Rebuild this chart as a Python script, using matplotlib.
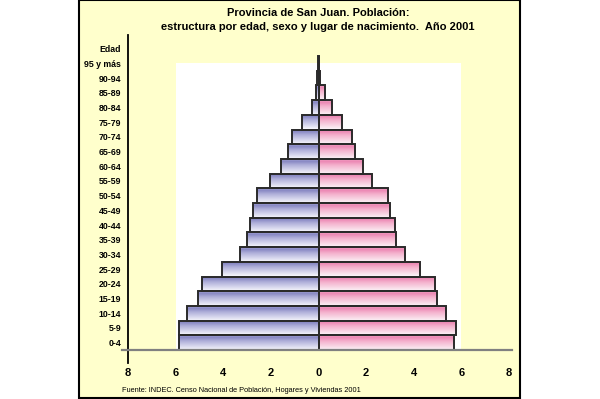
import numpy as np
import matplotlib
matplotlib.use("Agg")
import matplotlib.pyplot as plt
from matplotlib.patches import Rectangle
from matplotlib.colors import LinearSegmentedColormap

plt.rcParams['font.family'] = ['Liberation Sans', 'DejaVu Sans']

# age groups, bottom to top
ages = ['0-4', '5-9', '10-14', '15-19', '20-24', '25-29', '30-34', '35-39',
        '40-44', '45-49', '50-54', '55-59', '60-64', '65-69', '70-74',
        '75-79', '80-84', '85-89', '90-94', '95 y más']
# percent of population
varones = [5.86, 5.85, 5.51, 5.08, 4.88, 4.07, 3.30, 2.99, 2.88, 2.74,
           2.60, 2.04, 1.58, 1.30, 1.10, 0.71, 0.29, 0.12, 0.05, 0.02]
mujeres = [5.69, 5.78, 5.34, 4.99, 4.89, 4.26, 3.62, 3.24, 3.21, 3.00,
           2.91, 2.26, 1.88, 1.53, 1.42, 0.97, 0.55, 0.27, 0.08, 0.03]
xticks = [-8, -6, -4, -2, 0, 2, 4, 6, 8]

W, H = 600, 399
fig = plt.figure(figsize=(6, 3.99), dpi=100, facecolor='white')

# yellow frame
fig.patches.append(Rectangle((79 / W, 1 - 398 / H), (520 - 79) / W, 398 / H,
                             transform=fig.transFigure, facecolor='#FFFFCC',
                             edgecolor='black', lw=1.5, zorder=-5))

ax = fig.add_axes([128 / W, (H - 350) / H, 381 / W, 315 / H])
ax.set_zorder(5)
ax.set_facecolor('none')
ytop = -0.5 + 315 / 14.7

# white plot area
ax.add_patch(Rectangle((-6, -0.5), 12, 19.5, facecolor='white', edgecolor='none', zorder=0))

cm_m = LinearSegmentedColormap.from_list('m', [(0, '#f6f6fc'), (0.6, '#b0b0da'),
                                               (0.85, '#8888c4'), (1, '#a2a2d4')])
cm_f = LinearSegmentedColormap.from_list('f', [(0, '#fbf3f7'), (0.6, '#f4b0cc'),
                                               (0.85, '#ec88b4'), (1, '#f2a4c6')])
grad = np.linspace(0, 1, 64).reshape(-1, 1)

y = np.arange(len(ages))
for i in y:
    ax.imshow(grad, cmap=cm_m, origin='lower', aspect='auto', zorder=1,
              extent=(-varones[i], 0, i - 0.5, i + 0.5))
    ax.imshow(grad, cmap=cm_f, origin='lower', aspect='auto', zorder=1,
              extent=(0, mujeres[i], i - 0.5, i + 0.5))
ax.barh(y, [-v for v in varones], height=1.0, facecolor='none', edgecolor='#2a2a2a', lw=1.4, zorder=2)
ax.barh(y, mujeres, height=1.0, facecolor='none', edgecolor='#2a2a2a', lw=1.4, zorder=2)

ax.set_xlim(-8, 8)
ax.set_ylim(-0.5, ytop)
for s in ax.spines.values():
    s.set_visible(False)

# axis lines
ax.plot([-8, -8], [-1.4, ytop], color='black', lw=1.3, clip_on=False, zorder=3)
ax.plot([-8.26, 8.13], [-0.5, -0.5], color='#808080', lw=1.6, clip_on=False, zorder=3)

ax.set_yticks(list(y) + [20])
ax.set_yticklabels(ages + ['Edad'], fontsize=6.3, fontweight='bold')
ax.set_xticks(xticks)
ax.set_xticklabels([str(abs(t)) for t in xticks], fontsize=8, fontweight='bold')
ax.tick_params(axis='y', length=0, pad=5)
ax.tick_params(axis='x', length=0, pad=13)

fig.text(318 / W, 1 - 13 / H, 'Provincia de San Juan. Población:', ha='center', va='center',
         fontsize=8, fontweight='bold')
fig.text(318 / W, 1 - 27 / H, 'estructura por edad, sexo y lugar de nacimiento.  Año 2001',
         ha='center', va='center', fontsize=8, fontweight='bold')
fig.text(122 / W, 1 - 390 / H, 'Fuente: INDEC. Censo Nacional de Población, Hogares y Viviendas 2001',
         ha='left', va='center', fontsize=5.3)
fig.text(455 / W, 1 - 201 / H, 'Fundación Bataller', rotation=90, ha='center', va='center',
         fontsize=6.3)

fig.savefig('out.png', dpi=100, facecolor='white')
